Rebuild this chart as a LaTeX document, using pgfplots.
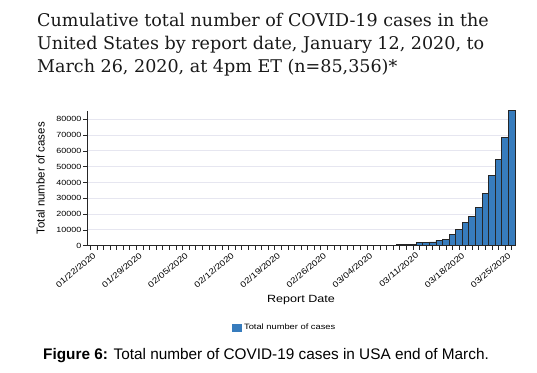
\documentclass[border=0pt]{standalone}
\usepackage{fontspec}
\setmainfont{Liberation Sans}
\newfontfamily\chartfont{Liberation Sans}[FakeStretch=1.2]
\newfontfamily\titlefont{DejaVu Serif}
\usepackage{pgfplots}
\pgfplotsset{compat=1.18}
\definecolor{barblue}{RGB}{55,124,189}
\definecolor{gridc}{RGB}{230,230,240}
\begin{document}
\begin{tikzpicture}
\path[use as bounding box] (0,0) rectangle (537bp,373bp);
% title
\node[anchor=base west, inner sep=0pt, text=black!90, font=\titlefont\fontsize{17.6}{20}\selectfont] at (37bp,346.3bp) {Cumulative total number of COVID-19 cases in the};
\node[anchor=base west, inner sep=0pt, text=black!90, font=\titlefont\fontsize{17.6}{20}\selectfont] at (37bp,323bp) {United States by report date, January 12, 2020, to};
\node[anchor=base west, inner sep=0pt, text=black!90, font=\titlefont\fontsize{17.6}{20}\selectfont] at (37bp,300.3bp) {March 26, 2020, at 4pm ET (n=85,356)*};
\begin{axis}[
  at={(87bp,127.3bp)}, anchor=south west,
  width=428bp, height=135bp, scale only axis,
  xmin=-0.5, xmax=64.5, ymin=0, ymax=85356,
  clip=false,
  axis lines*=left,
  axis line style={black!85, line width=0.8bp},
  ybar, bar width=1,
  xtick={0,7,...,63},
  xticklabels={01/22/2020,01/29/2020,02/05/2020,02/12/2020,02/19/2020,02/26/2020,03/04/2020,03/11/2020,03/18/2020,03/25/2020},
  minor xtick={0,...,64},
  ytick={0,10000,...,80000},
  tick align=outside,
  major tick length=4bp, minor tick length=4bp,
  tick style={black!85, line width=0.6bp},
  ymajorgrids, grid style={gridc, line width=0.9bp},
  /pgf/number format/assume math mode=true,
  /pgf/number format/1000 sep={},
  scaled y ticks=false,
  yticklabel style={font=\chartfont\fontsize{7.5}{9}\selectfont, inner sep=1.5bp},
  xticklabel style={font=\chartfont\fontsize{8.2}{9}\selectfont, rotate=40, anchor=north east, inner sep=0pt, xshift=0.5bp, yshift=-3bp},
  xlabel={Report Date},
  xlabel style={font=\chartfont\fontsize{10.5}{12}\selectfont, at={(axis description cs:0.5,-0.422)}, anchor=base},
  ylabel={Total number of cases},
  ylabel style={font=\fontsize{11.5}{13}\selectfont, at={(axis description cs:-0.1086,0.5)}, anchor=center},
  legend style={at={(axis description cs:0.3388,-0.607)}, anchor=west, draw=none, fill=none,
    font=\chartfont\fontsize{7.8}{9}\selectfont, inner sep=0pt},
  legend cell align=left,
]
\addplot[fill=barblue, draw=black!85, line width=0.9bp,
  legend image code/.code={\fill[barblue] (0bp,-3.5bp) rectangle (9bp,3.5bp);}]
coordinates {
(0,1) (1,1) (2,2) (3,2) (4,5) (5,5) (6,5) (7,5) (8,6) (9,7)
(10,8) (11,11) (12,11) (13,11) (14,12) (15,12) (16,12) (17,12) (18,12) (19,13)
(20,13) (21,14) (22,15) (23,15) (24,15) (25,15) (26,15) (27,15) (28,15) (29,15)
(30,35) (31,35) (32,35) (33,53) (34,57) (35,60) (36,60) (37,62) (38,70) (39,76)
(40,90) (41,110) (42,130) (43,160) (44,210) (45,260) (46,410) (47,600) (48,800) (49,1000)
(50,1750) (51,2100) (52,2350) (53,3500) (54,4200) (55,6800) (56,10200) (57,14700) (58,18500) (59,24400)
(60,33300) (61,44200) (62,54500) (63,68500) (64,85356)
};
\addlegendentry{Total number of cases}
\end{axis}
% caption
\node[anchor=base west, inner sep=0pt, font=\fontsize{15.4}{18}\selectfont] at (43bp,13.7bp) {\textbf{Figure 6:} Total number of COVID-19 cases in USA end of March.};
\end{tikzpicture}
\end{document}
